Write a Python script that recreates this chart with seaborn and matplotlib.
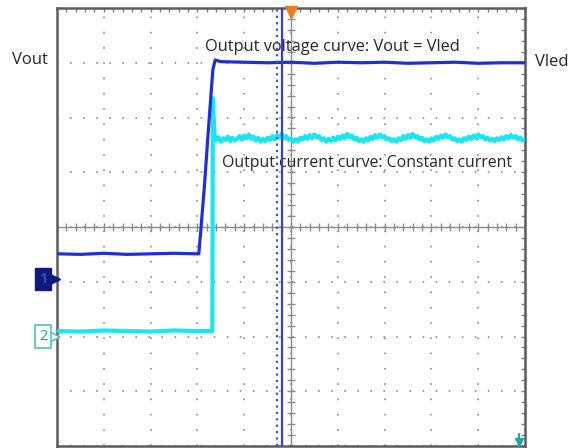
import numpy as np
import pandas as pd
import matplotlib
matplotlib.use("Agg")
import matplotlib.pyplot as plt
import seaborn as sns

volt_t = [0.03, 0.5, 1.0, 1.5, 2.0, 2.5, 3.03, 3.07, 3.15, 3.22, 3.28, 3.33, 3.38,
          3.5, 4.0, 4.5, 5.0, 5.5, 6.0, 6.5, 7.0, 7.5, 8.0, 8.5, 9.0, 9.5, 9.98]
volt_v = [-0.49, -0.50, -0.48, -0.50, -0.49, -0.48, -0.49, -0.09, 0.75, 1.60, 2.30, 2.87, 3.05,
          3.02, 3.01, 3.00, 3.01, 2.99, 3.01, 3.00, 3.01, 2.99, 3.00, 3.01, 2.99, 3.00, 3.00]

curr_t = [0.03, 0.5, 1.0, 1.5, 2.0, 2.5, 3.0, 3.32, 3.33, 3.35, 3.37]
curr_v = [-1.90, -1.91, -1.89, -1.90, -1.91, -1.89, -1.90, -1.90, 2.35, 1.95, 1.62]

# ondulation du courant après le démarrage (un point toutes les 0.05 div)
curr_ripple = [1.58, 1.64, 1.56, 1.62, 1.59, 1.65, 1.57, 1.63, 1.58, 1.61,
               1.66, 1.60, 1.67, 1.62, 1.69, 1.61, 1.65, 1.58, 1.63, 1.56,
               1.61, 1.57, 1.63, 1.59, 1.66, 1.60, 1.68, 1.63, 1.70, 1.62,
               1.66, 1.59, 1.62, 1.56, 1.60, 1.57, 1.63, 1.60, 1.66, 1.61,
               1.68, 1.62, 1.69, 1.64, 1.66, 1.59, 1.62, 1.56, 1.61, 1.57,
               1.63, 1.58, 1.65, 1.61, 1.67, 1.62, 1.70, 1.64, 1.67, 1.60,
               1.63, 1.57, 1.60, 1.56, 1.62, 1.58, 1.65, 1.61, 1.68, 1.63,
               1.69, 1.64, 1.66, 1.60, 1.62, 1.57, 1.60, 1.56, 1.62, 1.59,
               1.66, 1.61, 1.68, 1.63, 1.70, 1.64, 1.66, 1.60, 1.63, 1.57,
               1.60, 1.56, 1.62, 1.58, 1.65, 1.61, 1.67, 1.63, 1.69, 1.64,
               1.66, 1.60, 1.62, 1.57, 1.60, 1.56, 1.62, 1.59, 1.65, 1.61,
               1.67, 1.62, 1.69, 1.64, 1.66, 1.60, 1.63, 1.58, 1.61, 1.57,
               1.62, 1.59, 1.64, 1.60, 1.66, 1.62, 1.68, 1.63, 1.66, 1.60,
               1.63, 1.58, 1.61]
ripple_start = 3.40
ripple_step = 0.05

cursor_dotted = 4.70
cursor_solid = 4.81
trigger_pos = 5.0
ch1_ref = -1.0
ch2_ref = -2.0

sns.set_style("white")
plt.rcParams["font.family"] = ["Open Sans", "DejaVu Sans"]
plt.rcParams["lines.scale_dashes"] = False

ripple_t = ripple_start + ripple_step * np.arange(len(curr_ripple))
volt = pd.DataFrame({"t": volt_t, "v": volt_v})
curr = pd.DataFrame({"t": list(curr_t) + list(ripple_t),
                     "v": list(curr_v) + list(curr_ripple)})

fig = plt.figure(figsize=(5.79, 4.48), dpi=100)
ax = fig.add_axes([57 / 579, 2 / 448, 468 / 579, 438 / 448])
ax.set_xlim(0, 10)
ax.set_ylim(-4, 4)

# grille pointillée
ax.set_xticks(np.arange(0, 11, 1))
ax.set_yticks(np.arange(-4, 5, 1))
ax.set_xticks(np.arange(0, 10.01, 0.2), minor=True)
ax.set_yticks(np.arange(-4, 4.01, 0.2), minor=True)
ax.grid(axis="x", which="major", color="#a0a0a0", lw=1.5, ls=(0, (1.2, 9.8)))
ax.grid(axis="y", which="major", color="#a0a0a0", lw=1.5, ls=(0, (1.2, 8.2)))
ax.tick_params(which="both", direction="in", length=3, width=1, color="#808080",
               top=True, right=True, labelbottom=False, labelleft=False)
for s in ax.spines.values():
    s.set_color("#5c5c5c")
    s.set_linewidth(1.8)

# axes centraux avec graduations
ax.axhline(0, color="#8c8c8c", lw=1, zorder=1)
ax.axvline(5, color="#8c8c8c", lw=1, zorder=1)
steps_x = np.arange(0, 10.01, 0.2)
steps_y = np.arange(-4, 4.01, 0.2)
ax.plot(steps_x, np.zeros_like(steps_x), ls="none", marker="|", ms=6, mew=1, color="#8c8c8c")
ax.plot(np.full_like(steps_y, 5.0), steps_y, ls="none", marker="_", ms=6, mew=1, color="#8c8c8c")

# traces
sns.lineplot(data=curr, x="t", y="v", ax=ax, color="#18e6f2", lw=3.0,
             estimator=None, sort=False, zorder=3)
sns.lineplot(data=volt, x="t", y="v", ax=ax, color="#1c2fd8", lw=2.3,
             estimator=None, sort=False, zorder=4)
ax.set_xlabel("")
ax.set_ylabel("")

# curseurs
ax.axvline(cursor_dotted, color="#3a4fe0", lw=1.6, ls=(0, (1.6, 3.0)), zorder=5)
ax.axvline(cursor_solid, color="#3442c4", lw=1.6, zorder=5)

# repères
ax.plot([trigger_pos], [3.93], marker="v", ms=8, color="#f07a1e", clip_on=False, zorder=6)
ax.plot([9.87], [-3.93], marker="v", ms=6, color="#1aa6a6", clip_on=False, zorder=6)
ax.plot([9.87, 9.87], [-3.93, -3.78], color="#1aa6a6", lw=1.5, zorder=6)

ax.plot([-0.05], [ch1_ref + 0.05], marker=">", ms=7, color="#0e1a80", clip_on=False, zorder=6)
ax.text(-0.3, ch1_ref + 0.05, "1", ha="center", va="center", fontsize=10.5, fontweight="bold",
        color="#3a48b0", clip_on=False, zorder=7,
        bbox=dict(boxstyle="square,pad=0.25", fc="#0e1a80", ec="#0e1a80"))
ax.plot([-0.05], [ch2_ref], marker=">", ms=7, mfc="white", mec="#4cc4c4", mew=1.2,
        clip_on=False, zorder=6)
ax.text(-0.3, ch2_ref, "2", ha="center", va="center", fontsize=10.5, color="#2a9a9a",
        clip_on=False, zorder=7,
        bbox=dict(boxstyle="square,pad=0.25", fc="white", ec="#4cc4c4", lw=1.2))

# textes
ax.text(-0.96, 3.05, "Vout", ha="left", va="center", fontsize=12, clip_on=False)
ax.text(10.21, 3.01, "Vled", ha="left", va="center", fontsize=12, clip_on=False)
ax.text(3.16, 3.28, "Output voltage curve: Vout = Vled", ha="left", va="center", fontsize=11.8)
ax.text(3.53, 1.17, "Output current curve: Constant current", ha="left", va="center", fontsize=11.4)

fig.savefig("out.png", dpi=100)
